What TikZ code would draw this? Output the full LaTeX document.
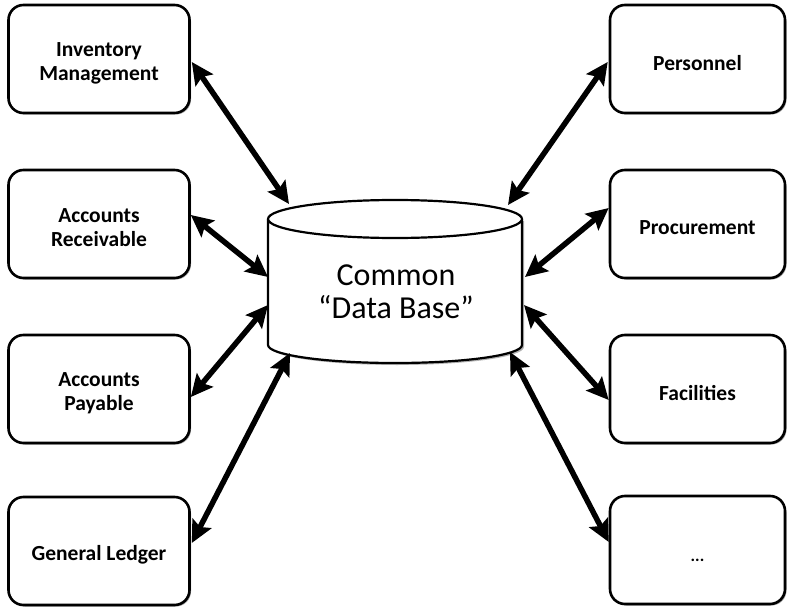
\documentclass[tikz,border=0pt]{standalone}
\usepackage{fontspec}
\setmainfont{Carlito}
\usetikzlibrary{arrows.meta,shadows,calc}
\begin{document}
\begin{tikzpicture}[x=1pt,y=-1pt,
  box/.style={draw=black,line width=2.6pt,rounded corners=15pt,fill=white,
    minimum height=108pt,inner sep=0pt,
    drop shadow={shadow xshift=1.5pt,shadow yshift=-1.5pt,opacity=0.35,fill=black}},
  boxtext/.style={align=center,inner sep=0pt,yshift=-4pt,
    font=\fontsize{21.5}{24}\selectfont\bfseries},
  lbox/.style={box,minimum width=181pt},
  rbox/.style={box,minimum width=175pt},
  link/.style={line width=5.5pt,{Stealth[length=22pt,width=21pt,inset=4pt]}-{Stealth[length=22pt,width=21pt,inset=4pt]}}]
\useasboundingbox (0,0) rectangle (787,607);
% boxes
\node[lbox,label={[boxtext]center:Inventory\\Management}] (inv) at (99,59) {};
\node[lbox,label={[boxtext]center:Accounts\\Receivable}] (ar) at (99,224) {};
\node[lbox,label={[boxtext]center:Accounts\\Payable}] (ap) at (99,389) {};
\node[lbox,label={[boxtext]center:General Ledger}] (gl) at (99,551) {};
\node[rbox,label={[boxtext]center:Personnel}] (per) at (697.5,59) {};
\node[rbox,label={[boxtext]center:Procurement}] (proc) at (697.5,224) {};
\node[rbox,label={[boxtext]center:Facilities}] (fac) at (697.5,389) {};
\node[rbox,label={[boxtext,yshift=-6pt,font=\fontsize{17}{20}\selectfont\bfseries]center:...}] (etc) at (697.5,550) {};
% cylinder
\fill[black,opacity=0.3] (270,221) -- (270,347) arc[start angle=180,end angle=0,x radius=127,y radius=18] -- (524,221) -- cycle;
\draw[line width=2.2pt,fill=white] (268,219) -- (268,345) arc[start angle=180,end angle=0,x radius=127,y radius=18] -- (522,219);
\draw[line width=2.2pt,fill=white] (395,219) ellipse[x radius=127,y radius=19];
\node[font=\fontsize{32}{33}\selectfont,align=center] (db) at (396,292) {Common\\“Data Base”};
% connector ends on the cylinder
\coordinate (cinv) at (289,204);
\coordinate (car) at (268,277);
\coordinate (cap) at (268,305);
\coordinate (cgl) at (290,353);
\coordinate (cper) at (508,205);
\coordinate (cproc) at (525,277);
\coordinate (cfac) at (524,305);
\coordinate (cetc) at (510,352);
% connectors
\draw[link] ($(inv.east)+(1,3)$) -- (cinv);
\draw[link] ($(ar.east)+(0,-9)$) -- (car);
\draw[link] ($(ap.east)+(0,8)$) -- (cap);
\draw[link] ($(gl.east)+(1,-8)$) -- (cgl);
\draw[link] ($(per.west)+(-1,3)$) -- (cper);
\draw[link] ($(proc.west)+(0,-16)$) -- (cproc);
\draw[link] ($(fac.west)+(0,11)$) -- (cfac);
\draw[link] ($(etc.west)+(0,-8)$) -- (cetc);
\end{tikzpicture}
\end{document}
